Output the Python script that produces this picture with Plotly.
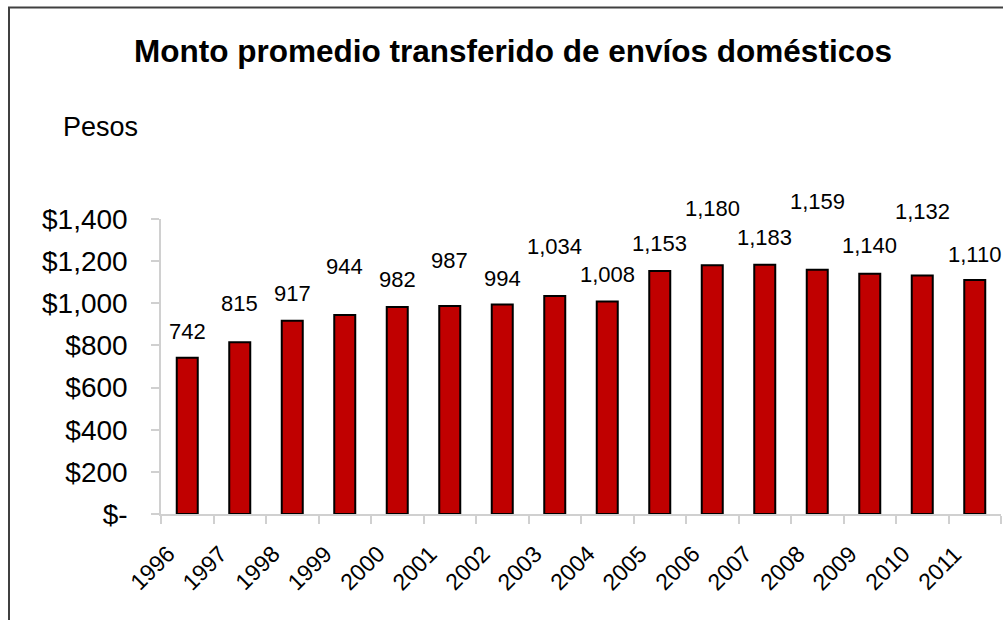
import plotly.graph_objects as go

years = ["1996", "1997", "1998", "1999", "2000", "2001", "2002", "2003",
         "2004", "2005", "2006", "2007", "2008", "2009", "2010", "2011"]
monto = [742, 815, 917, 944, 982, 987, 994, 1034,
         1008, 1153, 1180, 1183, 1159, 1140, 1132, 1110]
# vertical offset (px) of each value label above its bar (labels are staggered)
label_shift = [26, 39, 27, 49, 28, 46, 26, 50, 27, 28, 57, 27, 68, 28, 64, 26]

y_tickvals = [0, 200, 400, 600, 800, 1000, 1200, 1400]
y_ticktext = ["$-", "$200", "$400", "$600", "$800", "$1,000", "$1,200", "$1,400"]

W, H = 1003, 620
ML, MR, MT, MB = 161, 2, 219, 106
PW, PH = W - ML - MR, H - MT - MB

def px_to_paper_x(px):
    return (px - ML) / PW

def px_to_paper_y(py):
    return (H - MB - py) / PH

FONT = "Liberation Sans, Arial, sans-serif"
AXIS_GRAY = "#d0d0d0"

fig = go.Figure()
fig.add_trace(go.Bar(
    x=years, y=monto,
    marker=dict(color="#C00000", line=dict(color="#000000", width=2)),
    hoverinfo="x+y",
))

annotations = []
for i, (v, s) in enumerate(zip(monto, label_shift)):
    annotations.append(dict(
        x=i, y=v, xref="x", yref="y", text=f"{v:,}",
        showarrow=False, yanchor="middle", yshift=s,
        font=dict(family=FONT, size=22, color="#000000"),
    ))

# rotated category labels (placed like the original: left of and below each tick)
for i, yr in enumerate(years):
    annotations.append(dict(
        x=i, y=0, xref="x", yref="y", text=yr,
        showarrow=False, textangle=-45,
        xanchor="center", yanchor="middle",
        xshift=-35, yshift=-54,
        font=dict(family=FONT, size=23, color="#000000"),
    ))

annotations.append(dict(
    x=px_to_paper_x(61), y=px_to_paper_y(127), xref="paper", yref="paper",
    text="Pesos", showarrow=False, xanchor="left", yanchor="middle",
    font=dict(family=FONT, size=27, color="#000000"),
))

fig.update_layout(
    width=W, height=H,
    margin=dict(l=ML, r=MR, t=MT, b=MB, pad=0),
    paper_bgcolor="white", plot_bgcolor="white",
    showlegend=False,
    bargap=0.6,
    title=dict(
        text="<b>Monto promedio transferido de envíos domésticos</b>",
        x=513 / W, xanchor="center", xref="container",
        y=1 - 51 / H, yanchor="middle", yref="container",
        font=dict(family=FONT, size=31.5, color="#000000"),
    ),
    xaxis=dict(
        type="category",
        range=[-0.5, len(years) - 0.5],
        showline=True, linecolor=AXIS_GRAY, linewidth=1.5,
        ticks="outside", tickson="boundaries", ticklen=8, tickcolor=AXIS_GRAY, tickwidth=1.5,
        showticklabels=False,
        showgrid=False, zeroline=False,
    ),
    yaxis=dict(
        range=[0, 1400],
        tickvals=y_tickvals, ticktext=y_ticktext,
        showline=True, linecolor=AXIS_GRAY, linewidth=1.5,
        ticks="outside", ticklen=8, tickcolor=AXIS_GRAY, tickwidth=1.5,
        tickfont=dict(family=FONT, size=28, color="#000000"),
        showgrid=False, zeroline=False,
        ticklabelstandoff=18,
    ),
    annotations=annotations,
    shapes=[dict(
        type="rect", xref="paper", yref="paper",
        x0=px_to_paper_x(9), x1=px_to_paper_x(W + 50),
        y0=px_to_paper_y(H + 50), y1=px_to_paper_y(7.5),
        line=dict(color="#404040", width=2), fillcolor="rgba(0,0,0,0)",
        layer="above",
    )],
)

fig.write_html(
    "out.html",
    config={"displayModeBar": False},
    post_script="document.body.style.margin='0px';document.body.style.overflow='hidden';",
)
